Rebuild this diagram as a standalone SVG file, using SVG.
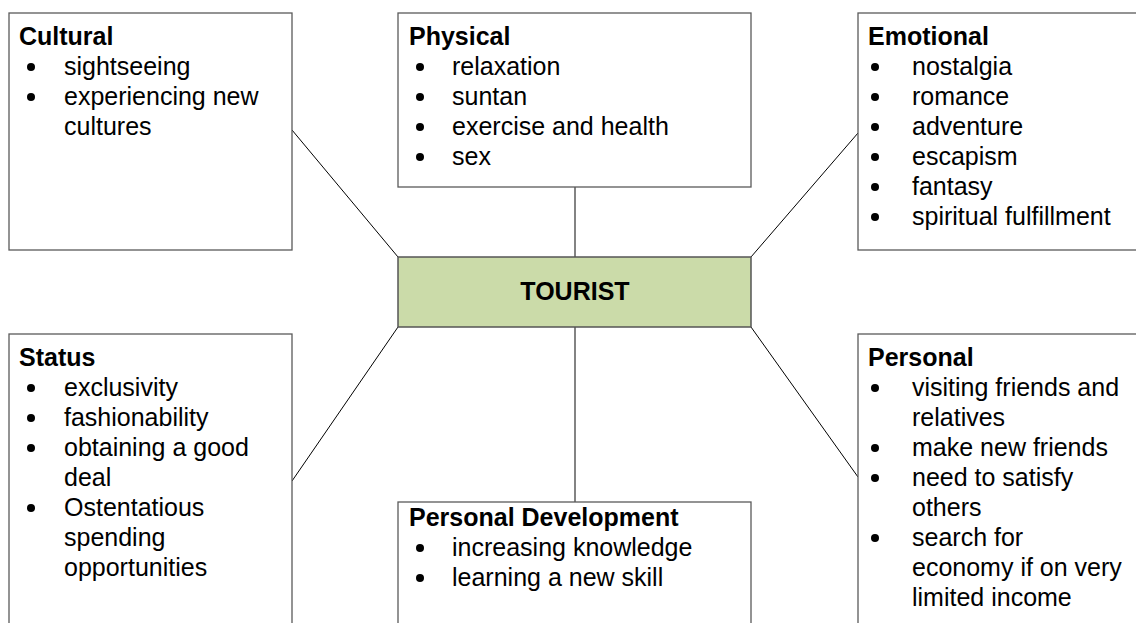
<svg xmlns="http://www.w3.org/2000/svg" width="1136" height="623" viewBox="0 0 1136 623">
<style>
.box{fill:#fff;stroke:#5a5a5a;stroke-width:1.3}
.hub{fill:#cbdba9;stroke:#555;stroke-width:1.5}
.t{font-family:"Liberation Sans",Arial,sans-serif;font-size:25px;font-weight:bold;fill:#000}
.i{font-family:"Liberation Sans",Arial,sans-serif;font-size:25px;fill:#000}
.b{fill:#000}
.d{stroke:#000;stroke-width:1}
.v{stroke:#5a5a5a;stroke-width:1.5}
</style>
<rect width="1136" height="623" fill="#fff"/>
<g id="connectors">
<line class="d" x1="292" y1="130" x2="398" y2="257"/>
<line class="v" x1="575" y1="187" x2="575" y2="257"/>
<line class="d" x1="858" y1="133" x2="751" y2="257"/>
<line class="d" x1="292" y1="481" x2="398" y2="327"/>
<line class="v" x1="575" y1="327" x2="575" y2="502"/>
<line class="d" x1="858" y1="477" x2="751" y2="327"/>
</g>
<g id="cultural">
<rect class="box" x="9" y="13" width="283" height="237"/>
<text class="t" x="19" y="45">Cultural</text>
<circle class="b" cx="31" cy="67" r="4"/><text class="i" x="64" y="75">sightseeing</text>
<circle class="b" cx="31" cy="97" r="4"/><text class="i" x="64" y="105">experiencing new</text>
<text class="i" x="64" y="135">cultures</text>
</g>
<g id="physical">
<rect class="box" x="398" y="13" width="353" height="174"/>
<text class="t" x="409" y="45">Physical</text>
<circle class="b" cx="420" cy="67" r="4"/><text class="i" x="452" y="75">relaxation</text>
<circle class="b" cx="420" cy="97" r="4"/><text class="i" x="452" y="105">suntan</text>
<circle class="b" cx="420" cy="127" r="4"/><text class="i" x="452" y="135">exercise and health</text>
<circle class="b" cx="420" cy="157" r="4"/><text class="i" x="452" y="165">sex</text>
</g>
<g id="emotional">
<rect class="box" x="858" y="13" width="290" height="237"/>
<text class="t" x="868" y="45">Emotional</text>
<circle class="b" cx="875" cy="67" r="4"/><text class="i" x="912" y="75">nostalgia</text>
<circle class="b" cx="875" cy="97" r="4"/><text class="i" x="912" y="105">romance</text>
<circle class="b" cx="875" cy="127" r="4"/><text class="i" x="912" y="135">adventure</text>
<circle class="b" cx="875" cy="157" r="4"/><text class="i" x="912" y="165">escapism</text>
<circle class="b" cx="875" cy="187" r="4"/><text class="i" x="912" y="195">fantasy</text>
<circle class="b" cx="875" cy="217" r="4"/><text class="i" x="912" y="225">spiritual fulfillment</text>
</g>
<g id="tourist">
<rect class="hub" x="398" y="257" width="353" height="70"/>
<text class="t" x="575" y="300" text-anchor="middle">TOURIST</text>
</g>
<g id="status">
<rect class="box" x="9" y="334" width="283" height="300"/>
<text class="t" x="19" y="366">Status</text>
<circle class="b" cx="31" cy="388" r="4"/><text class="i" x="64" y="396">exclusivity</text>
<circle class="b" cx="31" cy="418" r="4"/><text class="i" x="64" y="426">fashionability</text>
<circle class="b" cx="31" cy="448" r="4"/><text class="i" x="64" y="456">obtaining a good</text>
<text class="i" x="64" y="486">deal</text>
<circle class="b" cx="31" cy="508" r="4"/><text class="i" x="64" y="516">Ostentatious</text>
<text class="i" x="64" y="546">spending</text>
<text class="i" x="64" y="576">opportunities</text>
</g>
<g id="personal-development">
<rect class="box" x="398" y="502" width="353" height="140"/>
<text class="t" x="409" y="526">Personal Development</text>
<circle class="b" cx="420" cy="548" r="4"/><text class="i" x="452" y="556">increasing knowledge</text>
<circle class="b" cx="420" cy="578" r="4"/><text class="i" x="452" y="586">learning a new skill</text>
</g>
<g id="personal">
<rect class="box" x="858" y="334" width="290" height="300"/>
<text class="t" x="868" y="366">Personal</text>
<circle class="b" cx="875" cy="388" r="4"/><text class="i" x="912" y="396">visiting friends and</text>
<text class="i" x="912" y="426">relatives</text>
<circle class="b" cx="875" cy="448" r="4"/><text class="i" x="912" y="456">make new friends</text>
<circle class="b" cx="875" cy="478" r="4"/><text class="i" x="912" y="486">need to satisfy</text>
<text class="i" x="912" y="516">others</text>
<circle class="b" cx="875" cy="538" r="4"/><text class="i" x="912" y="546">search for</text>
<text class="i" x="912" y="576">economy if on very</text>
<text class="i" x="912" y="606">limited income</text>
</g>
</svg>
